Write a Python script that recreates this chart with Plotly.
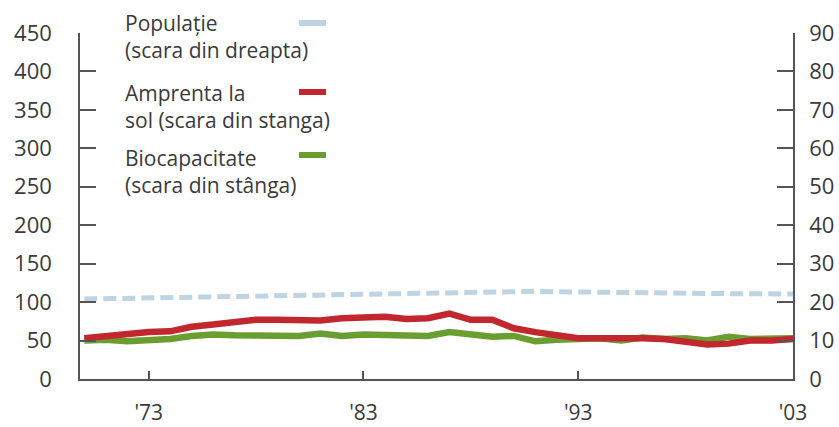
import plotly.graph_objects as go

years = list(range(1970, 2004))
footprint = [53, 56, 58, 61, 62, 68, 71, 74, 77, 77, 77, 76, 79, 80, 81, 78, 79, 85, 77, 77,
             66, 61, 56, 53, 53, 54, 53, 52, 48, 45, 46, 50, 50, 52]
biocapacity = [50, 51, 49, 50, 52, 56, 58, 57, 56, 56, 56, 59, 56, 58, 57, 58, 56, 61, 59, 55,
               56, 49, 51, 53, 53, 50, 54, 52, 53, 50, 55, 52, 52, 53]
population = [20.8, 20.9, 21.0, 21.2, 21.3, 21.4, 21.5, 21.7, 21.8, 21.9, 22.0, 22.1, 22.2, 22.3,
              22.4, 22.5, 22.6, 22.7, 22.8, 22.9, 22.9, 22.8, 22.7, 22.6, 22.5, 22.5, 22.4, 22.4,
              22.3, 22.3, 22.2, 22.2, 22.1, 22.1]
x_tick_vals = [1973, 1983, 1993, 2003]
x_tick_text = ["'73", "'83", "'93", "'03"]
left_ticks = [0, 50, 100, 150, 200, 250, 300, 350, 400, 450]
right_ticks = [0, 10, 20, 30, 40, 50, 60, 70, 80, 90]

RED = "#c1272d"
GREEN = "#6b9e30"
BLUE = "#bed4e3"
AX = "#555555"
TXT = "#3a3a3a"
FONT = "Open Sans"

L, R, T, B = 80, 46, 33, 48
PW, PH = 839 - L - R, 427 - T - B

fig = go.Figure()
fig.add_trace(go.Scatter(x=years, y=population, yaxis="y2", mode="lines",
                         line=dict(color=BLUE, width=5, dash="13px,6px"), showlegend=False))
fig.add_trace(go.Scatter(x=years, y=biocapacity, mode="lines",
                         line=dict(color=GREEN, width=6.5), showlegend=False))
fig.add_trace(go.Scatter(x=years, y=footprint, mode="lines",
                         line=dict(color=RED, width=6.5), showlegend=False))

fig.update_layout(
    width=839, height=427,
    margin=dict(l=L, r=R, t=T, b=B, autoexpand=False),
    paper_bgcolor="white", plot_bgcolor="white",
    font=dict(family=FONT, color=TXT, size=22),
    xaxis=dict(range=[1969.8, 2003.0], tickvals=x_tick_vals, ticktext=x_tick_text,
               showgrid=False, zeroline=False, showline=True, linecolor=AX, linewidth=1.5,
               ticks="inside", ticklen=8, tickcolor=AX, tickwidth=1.5, automargin=False,
               ticklabelstandoff=14, tickfont=dict(size=21, color=TXT)),
    yaxis=dict(range=[0, 450], tickvals=left_ticks, showgrid=False, zeroline=False,
               showline=True, linecolor=AX, linewidth=1.5, ticks="inside", ticklen=16,
               tickcolor=AX, tickwidth=1.5, ticklabelstandoff=22, automargin=False,
               tickfont=dict(size=22, color=TXT)),
    yaxis2=dict(range=[0, 90], tickvals=right_ticks, overlaying="y", side="right",
                showgrid=False, zeroline=False, showline=True, linecolor=AX, linewidth=1.5,
                ticks="inside", ticklen=16, tickcolor=AX, tickwidth=1.5, automargin=False,
                ticklabelstandoff=10, tickfont=dict(size=22, color=TXT)),
)

legend_texts = ["Populație<br>(scara din dreapta)",
                "Amprenta la<br>sol (scara din stanga)",
                "Biocapacitate<br>(scara din stânga)"]
legend_tops = [8, 78, 143]
for text, ytop in zip(legend_texts, legend_tops):
    fig.add_annotation(xref="paper", yref="paper", x=(124 - L) / PW, y=1 - (ytop - T) / PH,
                       xanchor="left", yanchor="top", text=text, showarrow=False, align="left",
                       borderpad=0, font=dict(size=21, color=TXT, family=FONT))

swatch_y = [23, 92, 155]
swatch_c = [BLUE, RED, GREEN]
for yy, cc in zip(swatch_y, swatch_c):
    fig.add_shape(type="line", xref="paper", yref="paper",
                  x0=(299 - L) / PW, x1=(326 - L) / PW,
                  y0=1 - (yy - T) / PH, y1=1 - (yy - T) / PH,
                  line=dict(color=cc, width=6))

fig.write_html("out.html", config={"displayModeBar": False},
               post_script="document.body.style.margin='0';document.body.style.padding='0';")
